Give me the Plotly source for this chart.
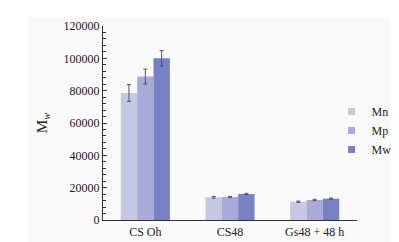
import plotly.graph_objects as go

categories = ["CS Oh", "CS48", "Gs48 + 48 h"]
series_names = ["Mn", "Mp", "Mw"]
mn_values = [78600, 14000, 11300]
mp_values = [88700, 14200, 12400]
mw_values = [100000, 16100, 13200]
mn_err = [5200, 500, 400]
mp_err = [4600, 400, 400]
mw_err = [4800, 400, 400]
y_ticks = [0, 20000, 40000, 60000, 80000, 100000, 120000]
colors = ["#c5c8e4", "#a8abd8", "#7881c3"]

values = [mn_values, mp_values, mw_values]
errors = [mn_err, mp_err, mw_err]

fig = go.Figure()
for name, vals, errs, col in zip(series_names, values, errors, colors):
    fig.add_trace(go.Bar(
        x=categories, y=vals, name=name, showlegend=False,
        marker=dict(color=col, line=dict(width=0)),
        error_y=dict(type="data", array=errs, visible=True,
                     color="#555555", thickness=1, width=2),
    ))
    fig.add_trace(go.Scatter(
        x=[None], y=[None], mode="markers", name=name,
        marker=dict(symbol="square", size=7, color=col),
    ))

serif = "Liberation Serif, Times New Roman, serif"
fig.update_layout(
    width=391, height=234,
    margin=dict(l=95, r=42, t=18, b=22, autoexpand=False),
    paper_bgcolor="white", plot_bgcolor="rgba(0,0,0,0)",
    barmode="group", bargap=0.42, bargroupgap=0,
    font=dict(family=serif, size=12, color="#222222"),
    legend=dict(x=0.90, y=0.634, xanchor="left", yanchor="top",
                bgcolor="rgba(0,0,0,0)", font=dict(size=12, family=serif),
                itemwidth=30, tracegroupgap=0),
    shapes=[dict(type="rect", xref="paper", yref="paper",
                 x0=-0.299, x1=1.2, y0=-0.12, y1=1.046,
                 fillcolor="#fafafa", line=dict(width=0), layer="below")],
)
fig.update_xaxes(
    automargin=False,
    showline=True, linecolor="#333333", linewidth=1.2,
    ticks="", showgrid=False, range=[-0.5, 2.5],
    tickfont=dict(size=12, family=serif),
)
fig.update_yaxes(
    automargin=False,
    range=[0, 120000], tickvals=y_ticks, ticktext=[str(v) for v in y_ticks],
    showline=True, linecolor="#333333", linewidth=1.2,
    ticks="inside", ticklen=4, tickcolor="#333333", tickwidth=1,
    minor=dict(ticks="inside", ticklen=2.5, dtick=4000, tickcolor="#333333", tickwidth=1, showgrid=False),
    showgrid=False, zeroline=False,
    tickfont=dict(size=12, family=serif),
    title=dict(text="M<sub><i>w</i></sub>", font=dict(size=15, family=serif), standoff=12),
)

fig.write_html("out.html")
